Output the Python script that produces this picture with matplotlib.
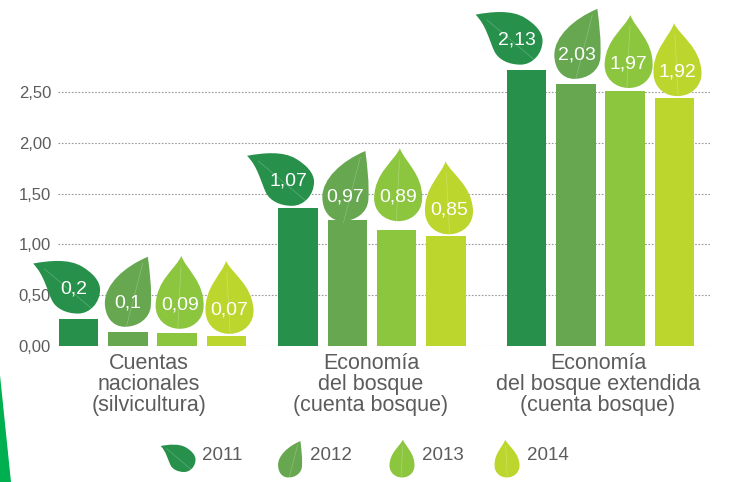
import matplotlib
matplotlib.use('Agg')
import matplotlib.pyplot as plt
from matplotlib.path import Path
from matplotlib.patches import PathPatch, Polygon
from matplotlib.transforms import Affine2D

plt.rcParams['font.family'] = ['Liberation Sans', 'DejaVu Sans']

# Data
categories = ['Cuentas\nnacionales\n(silvicultura)',
              'Economía\ndel bosque\n(cuenta bosque)',
              'Economía\ndel bosque extendida\n(cuenta bosque)']
years = ['2011', '2012', '2013', '2014']
bar_heights = {
    '2011': [0.27, 1.36, 2.72],
    '2012': [0.14, 1.24, 2.58],
    '2013': [0.13, 1.14, 2.51],
    '2014': [0.10, 1.08, 2.44],
}
leaf_labels = {
    '2011': ['0,2', '1,07', '2,13'],
    '2012': ['0,1', '0,97', '2,03'],
    '2013': ['0,09', '0,89', '1,97'],
    '2014': ['0,07', '0,85', '1,92'],
}
y_ticks = [0, 0.5, 1, 1.5, 2, 2.5]
y_tick_labels = ['0,00', '0,50', '1,00', '1,50', '2,00', '2,50']

colors = {'2011': '#27914b', '2012': '#66a750', '2013': '#8cc63f', '2014': '#bdd62e'}
text_color = '#5c5c5c'

W, H = 741, 482
fig = plt.figure(figsize=(W / 100, H / 100), dpi=100)
ax = fig.add_axes([58 / W, (H - 346) / H, 652 / W, 346 / H])
ax.set_xlim(58, 710)
ax.set_ylim(0, 346 / 101.6)

group_centers = [152.5, 372, 600.5]
label_centers = [149, 371, 598]
bar_step = 49.3
bar_width = 39.5

# label offset (px from bar top centre) per year and group
label_offset = {
    '2011': [(-4.5, 30), (-10, 27), (-10, 30)],
    '2012': [(0, 29), (-2, 23), (1.5, 29)],
    '2013': [(2.5, 28), (1.5, 33), (3.5, 27)],
    '2014': [(3, 26), (3, 26), (3, 26)],
}

# leaf outlines in px around the label centre
drop = [(0, 49), (5, 36), (24, 24), (24, -1), (24, -15), (13, -24), (0, -24),
        (-13, -24), (-24, -15), (-24, -1), (-24, 24), (-5, 36), (0, 49)]
leaf_outline = {
    '2011': [(-41, 25), (-25, 28), (-5, 30), (8, 22), (18, 16), (26, 8), (26, -1),
             (26, -14), (16, -25), (4, -25), (-8, -25), (-18, -20), (-22, -12),
             (-27, -2), (-30, 14), (-41, 25)],
    '2012': [(20, 46), (22, 30), (24, 15), (23, -3), (22, -16), (10, -24), (-3, -24),
             (-16, -24), (-23, -13), (-23, 0), (-23, 18), (-4, 36), (20, 46)],
    '2013': drop,
    '2014': drop,
}
leaf_vein = {
    '2011': [(-30, 20), (20, -22)],
    '2012': [(15, 40), (-2, -26)],
    '2013': [(0, 38), (-1, -25)],
    '2014': [(0, 38), (-1, -25)],
}
leaf_rotation = {'2011': 0, '2012': 0, '2013': -2, '2014': 4}


def draw_leaf(px, py, year, scale=1.0):
    tr = Affine2D().rotate_deg(leaf_rotation[year]).scale(scale).translate(px, py)
    codes = [Path.MOVETO] + [Path.CURVE4] * (len(leaf_outline[year]) - 1)
    ax.add_patch(PathPatch(Path(leaf_outline[year], codes), facecolor=colors[year],
                           edgecolor='none', transform=tr, clip_on=False, zorder=3))
    ax.add_patch(PathPatch(Path(leaf_vein[year]), facecolor='none', edgecolor='white',
                           alpha=0.25, lw=0.5, transform=tr, clip_on=False, zorder=3))


ax.grid(axis='y', color='#999999', linestyle=(0, (1.5, 1.5)), linewidth=0.8)
ax.set_axisbelow(True)
for s in ax.spines.values():
    s.set_visible(False)

for i, year in enumerate(years):
    xs = [c + (i - 1.5) * bar_step for c in group_centers]
    ax.bar(xs, bar_heights[year], width=bar_width, color=colors[year], zorder=2)
    for j, x in enumerate(xs):
        dx, dy = label_offset[year][j]
        bx, by = ax.transData.transform((x, bar_heights[year][j]))
        draw_leaf(bx + dx, by + dy, year)
        ax.annotate(leaf_labels[year][j], xy=(x, bar_heights[year][j]), xytext=(dx, dy),
                    textcoords='offset pixels', ha='center', va='center',
                    color='white', fontsize=14, zorder=5, annotation_clip=False)

ax.set_yticks(y_ticks, y_tick_labels)
ax.set_xticks(label_centers, categories)
ax.tick_params(axis='y', length=0, pad=5, labelsize=12, labelcolor=text_color)
ax.tick_params(axis='x', length=0, pad=5, labelsize=15.5, labelcolor=text_color)
for lab in ax.get_xticklabels():
    lab.set_linespacing(1.0)

# legend
legend_leaf_x = [182, 290, 402, 507]
legend_leaf_y = [459, 465, 465, 465]
legend_text_x = [202, 310, 422, 527]
for year, lx, ly, tx in zip(years, legend_leaf_x, legend_leaf_y, legend_text_x):
    draw_leaf(lx, H - ly, year, scale=0.52)
    fig.text(tx / W, (H - 455) / H, year, color=text_color, fontsize=13.5, ha='left', va='center')

# green strip bottom left
fig.add_artist(Polygon([(0, 1 - 375 / H), (11 / W, 0), (0, 0)], closed=True,
                       transform=fig.transFigure, facecolor='#00b050', edgecolor='none'))

fig.savefig('out.png', dpi=100)
